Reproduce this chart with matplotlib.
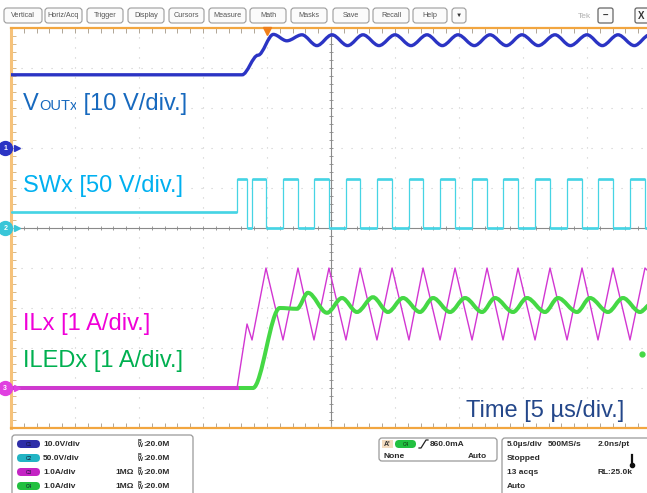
"""Scope capture: boost start-up, VOUTx / SWx / ILx / ILEDx."""
import numpy as np
import matplotlib
matplotlib.use("Agg")
from matplotlib import pyplot as plt, rcParams
from matplotlib.path import Path
from matplotlib.patches import PathPatch, FancyBboxPatch

rcParams['font.family'] = ['Liberation Sans', 'DejaVu Sans']

# Channel settings: units per division and ground marker position (div).
CH_SCALE = {'vout': 10.0, 'sw': 50.0, 'il': 1.0, 'iled': 1.0}
CH_OFFSET = {'vout': 2.0, 'sw': 0.0, 'il': -4.0, 'iled': -4.0}

VOUT_T = [-25.0, -6.95, -5.7, -4.5, -3.45, -2.27, -1.1, 0.08, 1.3, 2.5, 3.75,
          5.0, 6.25, 7.5, 8.7, 9.92, 11.2, 12.42, 13.7, 14.92, 16.2, 17.5,
          18.7, 20.0, 21.2, 22.42, 23.7, 24.9]
VOUT_V = [18.3, 18.3, 23.2, 28.4, 26.8, 28.3, 25.6, 28.3, 25.6, 28.3, 25.6,
          28.3, 25.6, 28.3, 25.6, 28.3, 25.6, 28.3, 25.6, 28.3, 25.6, 28.3,
          25.6, 28.3, 25.6, 28.3, 25.6, 28.3]

# SWx [V] - switching edges in us.
SW_IDLE, SW_HIGH, SW_LOW = 20.0, 61.0, 0.5
SW_RISE = [-7.34, -6.17, -3.75, -1.33, 1.17, 3.59, 6.09, 8.52, 11.02, 13.44,
           15.94, 18.44, 20.86, 23.36]
SW_FALL = [-6.56, -5.08, -2.58, -0.16, 2.27, 4.77, 7.19, 9.69, 12.19, 14.61,
           17.11, 19.61, 22.03, 24.53]

# ILx [A] - triangle vertices.
IL_T = [-25.0, -7.34, -6.56, -6.17, -5.08, -3.75, -2.58, -1.33, -0.16, 1.17,
        2.27, 3.59, 4.77, 6.09, 7.19, 8.52, 9.69, 11.02, 12.19, 13.44, 14.61,
        15.94, 17.11, 18.44, 19.61, 20.86, 22.03, 23.36, 24.53, 25.0]
IL_A = [0.0, 0.0, 1.6, 1.2, 3.0, 1.2, 3.0, 1.2, 3.0, 1.2, 3.0, 1.2, 3.0, 1.2,
        3.0, 1.2, 3.0, 1.2, 3.0, 1.2, 3.0, 1.2, 3.0, 1.2, 3.0, 1.2, 3.0, 1.2,
        3.0, 2.85]

# ILEDx [A] - extrema.
ILED_T = [-25.0, -6.1, -4.0, -2.66, -1.8, -0.31, 0.86, 2.03, 3.28, 4.45, 5.63,
          6.95, 7.97, 9.3, 10.47, 11.8, 12.81, 14.22, 15.31, 16.72, 17.73,
          19.22, 20.23, 21.64, 22.81, 24.14, 25.0]
ILED_A = [0.0, 0.0, 2.0, 1.98, 2.38, 1.88, 2.25, 1.9, 2.27, 1.9, 2.25, 1.9,
          2.25, 1.9, 2.25, 1.9, 2.25, 1.9, 2.25, 1.9, 2.25, 1.9, 2.25, 1.9,
          2.25, 1.9, 2.1]

TRIG_TIME = -5.0
TRIG_LEVEL = 0.86  # A on C4

LABELS = ["SWx [50 V/div.]", "ILx [1 A/div.]", "ILEDx [1 A/div.]",
          "Time [5 \u00b5s/div.]"]
BUTTONS = ["Vertical", "Horiz/Acq", "Trigger", "Display", "Cursors",
           "Measure", "Math", "Masks", "Save", "Recall", "Help", "\u25bc"]
CH_TEXT = ["10.0V/div", "50.0V/div", "1.0A/div", "1.0A/div"]

C_VOUT, C_SW, C_IL, C_ILED = '#2b34c4', '#46d4e4', '#d236d2', '#45d845'
PILL = ['#2e2ea8', '#22b4c4', '#c424c4', '#22c040']
ORANGE = '#f2a640'


def to_div(vals, ch):
    return CH_OFFSET[ch] + np.asarray(vals) / CH_SCALE[ch]


def smooth_path(ts, vs, k=1 / 3):
    """Cubic segments with flat tangents at each extremum."""
    verts, codes = [(ts[0], vs[0])], [Path.MOVETO]
    for i in range(1, len(ts)):
        d = (ts[i] - ts[i - 1]) * k
        verts += [(ts[i - 1] + d, vs[i - 1]), (ts[i] - d, vs[i]), (ts[i], vs[i])]
        codes += [Path.CURVE4] * 3
    return Path(verts, codes)


fig = plt.figure(figsize=(6.47, 4.93), dpi=100)
fig.patch.set_facecolor('white')

# ---- scope screen ----
ax = fig.add_axes([11 / 647, 65 / 493, 640 / 647, 400 / 493], zorder=1)
ax.set_xlim(-25, 25)
ax.set_ylim(-5, 5)
ax.set_xticks([])
ax.set_yticks([])
for side in ['left', 'top', 'bottom']:
    ax.spines[side].set_color(ORANGE)
    ax.spines[side].set_linewidth(1.6)
ax.spines['left'].set_linewidth(2.2)
ax.spines['left'].set_color('#f6c27a')
ax.spines['right'].set_visible(False)

for x in np.arange(-20, 25, 5):
    if x != 0:
        ax.axvline(x, color='#cccccc', lw=0.8, ls=(0, (1, 8)), zorder=0)
for y in range(-4, 5):
    if y != 0:
        ax.axhline(y, color='#cccccc', lw=0.8, ls=(0, (1, 8)), zorder=0)
ax.axhline(0, color='#8a8a8a', lw=0.8, zorder=0)
ax.axvline(0, color='#8a8a8a', lw=0.8, zorder=0)
fine_t = np.arange(-25, 25.01, 1.0)
fine_y = np.arange(-5, 5.01, 0.2)
ax.plot(fine_t, np.zeros_like(fine_t), ls='none', marker='|', ms=3.5,
        mew=0.6, color='#8a8a8a', zorder=0)
ax.plot(np.zeros_like(fine_y), fine_y, ls='none', marker='_', ms=3.5,
        mew=0.6, color='#8a8a8a', zorder=0)
ax.plot(np.full_like(fine_y, -25), fine_y, ls='none', marker=1, ms=3.5,
        mew=0.7, color='#d8b888', clip_on=False)
ax.plot(fine_t, np.full_like(fine_t, 5), ls='none', marker=3, ms=3.5,
        mew=0.7, color='#b0a696', clip_on=False)
ax.plot(fine_t, np.full_like(fine_t, -5), ls='none', marker=2, ms=3.5,
        mew=0.7, color='#b0a696', clip_on=False)

# SWx
sw_t, sw_v = [-25.0, SW_RISE[0]], [SW_IDLE, SW_IDLE]
for i, (r, f) in enumerate(zip(SW_RISE, SW_FALL)):
    if i > 0:
        sw_t.append(r)
        sw_v.append(SW_LOW)
    sw_t += [r, f, f]
    sw_v += [SW_HIGH, SW_HIGH, SW_LOW]
sw_t.append(25.0)
sw_v.append(SW_LOW)
sw_d = to_div(sw_v, 'sw')
ax.plot(sw_t, sw_d, color=C_SW, lw=0.9, zorder=3)
for i in range(len(sw_t) - 1):
    if sw_v[i] == sw_v[i + 1]:
        ax.plot(sw_t[i:i + 2], sw_d[i:i + 2], color=C_SW, lw=1.9,
                solid_capstyle='butt', zorder=3)

# VOUTx
ax.add_patch(PathPatch(smooth_path(VOUT_T, to_div(VOUT_V, 'vout')),
                       fill=False, edgecolor=C_VOUT, lw=2.4, zorder=3))

# ILx
il_d = to_div(IL_A, 'il')
ax.plot(IL_T, il_d, color=C_IL, lw=1.0, zorder=4)

# ILEDx
ax.add_patch(PathPatch(smooth_path(ILED_T, to_div(ILED_A, 'iled')),
                       fill=False, edgecolor=C_ILED, lw=2.9, zorder=5))
ax.plot(IL_T[:2], il_d[:2], color=C_IL, lw=2.8, zorder=6)

# trigger position / level markers
ax.plot(TRIG_TIME, 4.93, marker='v', ms=6, color='#f07f1a', clip_on=False,
        zorder=7)
ax.plot(24.3, to_div(TRIG_LEVEL, 'iled'), marker='o', ms=3.5, color=C_ILED,
        zorder=7)

# channel ground markers on the left edge
for ch, col, num in [('vout', C_VOUT, '1'), ('sw', '#39c6d8', '2'),
                     ('il', '#e040e0', '3')]:
    y0 = CH_OFFSET[ch]
    ax.plot(-25.45, y0, marker='o', ms=10, color=col, clip_on=False, zorder=8)
    ax.plot(-24.55, y0, marker='>', ms=4, color=col, clip_on=False, zorder=8)
    ax.text(-25.45, y0, num, color='white', fontsize=5, fontweight='bold',
            ha='center', va='center', clip_on=False, zorder=9)

# ---- overlay in pixel coordinates ----
ui = fig.add_axes([0, 0, 1, 1], zorder=2)
ui.set_xlim(0, 647)
ui.set_ylim(493, 0)
ui.axis('off')
fig.canvas.draw()
rend = fig.canvas.get_renderer()

wbox = dict(facecolor='white', edgecolor='none', pad=1)
x = 23
for s, size in [("V", 17), ("OUTx", 10.5), (" [10 V/div.]", 17)]:
    t = ui.text(x, 110, s, fontsize=size, color='#1769be', va='baseline',
                bbox=wbox)
    x += t.get_window_extent(rend).width

ui.text(23, 192, LABELS[0], fontsize=17, color='#00b0f0', va='baseline',
        bbox=wbox)
ui.text(23, 330, LABELS[1], fontsize=17, color='#f000d8', va='baseline',
        bbox=wbox)
ui.text(23, 367, LABELS[2], fontsize=17, color='#00b050', va='baseline',
        bbox=wbox)
ui.text(466, 417, LABELS[3], fontsize=17, color='#24478a', va='baseline',
        bbox=wbox)

# toolbar
btn_x = [(3, 43), (44, 83), (86, 124), (127, 165), (168, 205), (208, 247),
         (249, 287), (290, 328), (332, 370), (372, 410), (412, 448), (451, 467)]
for (x0, x1), lab in zip(btn_x, BUTTONS):
    ui.add_patch(FancyBboxPatch((x0 + 1, 8), x1 - x0 - 2, 15,
                                boxstyle='round,pad=0,rounding_size=3',
                                facecolor='#fbfbfb', edgecolor='#9c9c9c',
                                lw=0.8))
    ui.text((x0 + x1) / 2, 15.8, lab, fontsize=5.2 if lab != "\u25bc" else 4.5,
            color='#555555' if lab != "\u25bc" else '#333333', ha='center',
            va='center')
ui.text(584, 16, "Tek", fontsize=6, color='#b0b0b0', ha='center', va='center')
for x0, x1, lab in [(598, 613, "\u2013"), (635, 652, "X")]:
    ui.add_patch(FancyBboxPatch((x0, 8), x1 - x0, 15,
                                boxstyle='round,pad=0,rounding_size=2',
                                facecolor='#fbfbfb', edgecolor='#666666',
                                lw=0.9))
    ui.text((x0 + x1) / 2 if lab != "X" else 641, 16, lab, fontsize=7,
            fontweight='bold', color='#333333', ha='center', va='center')

# bottom status panels
bold = dict(fontsize=6, fontweight='bold', color='#2a2a2a', va='center')
ui.add_patch(FancyBboxPatch((12, 435), 181, 70,
                            boxstyle='round,pad=0,rounding_size=3',
                            facecolor='white', edgecolor='#9a9a9a', lw=0.9))
for i, (txt, col) in enumerate(zip(CH_TEXT, PILL)):
    yy = 444 + 14 * i
    ui.add_patch(FancyBboxPatch((17, yy - 4), 23, 8,
                                boxstyle='round,pad=0,rounding_size=4',
                                facecolor=col, edgecolor='none'))
    ui.text(28.5, yy, "C%d" % (i + 1), fontsize=3.5, color='#101030',
            ha='center', va='center')
    ui.text(43, yy, txt, **bold)
    ui.text(138, yy - 2.2, "B", fontsize=3.8, fontweight='bold',
            color='#2a2a2a', va='center')
    ui.text(138, yy + 1.8, "W", fontsize=3.8, fontweight='bold',
            color='#2a2a2a', va='center')
    ui.text(143, yy, ":20.0M", **bold)
    if i >= 2:
        ui.text(115, yy, "1M\u03a9", **bold)

ui.add_patch(FancyBboxPatch((379, 438), 118, 23,
                            boxstyle='round,pad=0,rounding_size=3',
                            facecolor='white', edgecolor='#9a9a9a', lw=0.9))
ui.add_patch(FancyBboxPatch((382, 440), 11, 8, boxstyle='square,pad=0',
                            facecolor='#f4dcc0', edgecolor='none'))
ui.text(387.5, 444, "A'", fontsize=5, fontweight='bold', color='#333333',
        ha='center', va='center')
ui.add_patch(FancyBboxPatch((395, 440), 21, 8,
                            boxstyle='round,pad=0,rounding_size=4',
                            facecolor=PILL[3], edgecolor='none'))
ui.text(405.5, 444, "C4", fontsize=3.5, color='#103010', ha='center',
        va='center')
ui.plot([419, 421, 426, 428], [448, 448, 440, 440], color='#222222', lw=0.9)
ui.text(430, 444, "860.0mA", **bold)
ui.text(383, 456, "None", **bold)
ui.text(468, 456, "Auto", **bold)

ui.add_patch(FancyBboxPatch((502, 438), 150, 70,
                            boxstyle='round,pad=0,rounding_size=3',
                            facecolor='white', edgecolor='#9a9a9a', lw=0.9))
ui.text(507, 444, "5.0\u00b5s/div", **bold)
ui.text(548, 444, "500MS/s", **bold)
ui.text(598, 444, "2.0ns/pt", **bold)
ui.text(507, 458, "Stopped", **bold)
ui.text(507, 472, "13 acqs", **bold)
ui.text(598, 472, "RL:25.0k", **bold)
ui.text(507, 486, "Auto", **bold)
ui.plot([632, 632], [455, 464], color='#111111', lw=1.6)
ui.plot(632, 465, marker='o', ms=3, color='#111111')

fig.savefig("out.png", dpi=100)
